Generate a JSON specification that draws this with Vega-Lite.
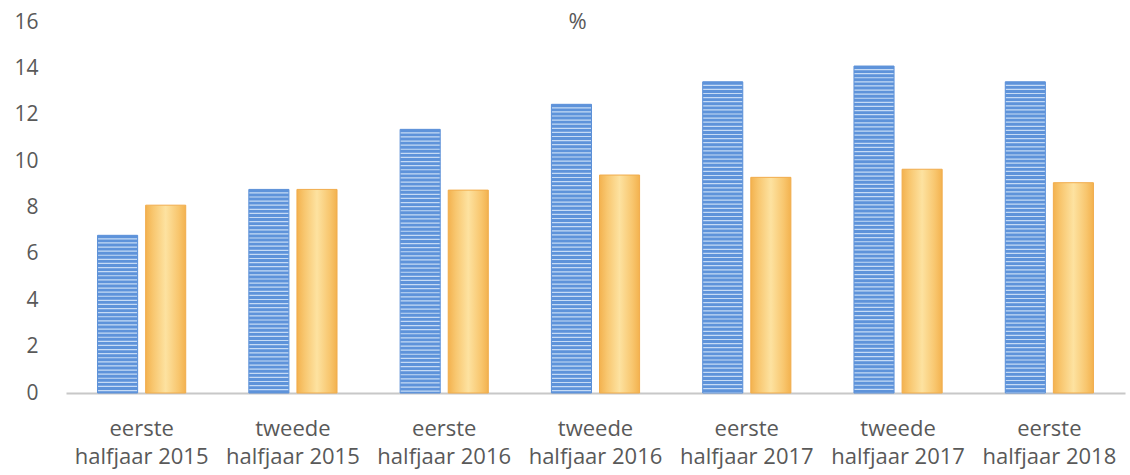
{
  "$schema": "https://vega.github.io/schema/vega-lite/v6.json",
  "width": 1059,
  "height": 371,
  "autosize": {"type": "none"},
  "padding": {"left": 66, "top": 22, "right": 5, "bottom": 82},
  "background": "white",
  "config": {"view": {"stroke": null}, "font": "Open Sans"},
  "title": {
    "text": "%",
    "font": "Open Sans",
    "fontSize": 22,
    "fontWeight": "normal",
    "color": "#595959",
    "dx": -18,
    "offset": -23
  },
  "data": {
    "values": [
      {"periode": "eerste halfjaar 2015", "reeks": "A", "waarde": 6.8},
      {"periode": "eerste halfjaar 2015", "reeks": "B", "waarde": 8.1},
      {"periode": "tweede halfjaar 2015", "reeks": "A", "waarde": 8.78},
      {"periode": "tweede halfjaar 2015", "reeks": "B", "waarde": 8.78},
      {"periode": "eerste halfjaar 2016", "reeks": "A", "waarde": 11.37},
      {"periode": "eerste halfjaar 2016", "reeks": "B", "waarde": 8.75},
      {"periode": "tweede halfjaar 2016", "reeks": "A", "waarde": 12.45},
      {"periode": "tweede halfjaar 2016", "reeks": "B", "waarde": 9.4},
      {"periode": "eerste halfjaar 2017", "reeks": "A", "waarde": 13.42},
      {"periode": "eerste halfjaar 2017", "reeks": "B", "waarde": 9.3},
      {"periode": "tweede halfjaar 2017", "reeks": "A", "waarde": 14.1},
      {"periode": "tweede halfjaar 2017", "reeks": "B", "waarde": 9.65},
      {"periode": "eerste halfjaar 2018", "reeks": "A", "waarde": 13.42},
      {"periode": "eerste halfjaar 2018", "reeks": "B", "waarde": 9.07}
    ]
  },
  "encoding": {
    "x": {
      "field": "periode",
      "type": "nominal",
      "sort": null,
      "scale": {"paddingInner": 0, "paddingOuter": 0},
      "axis": {
        "title": null,
        "labelAngle": 0,
        "ticks": false,
        "domainColor": "#c8c8c8",
        "domainWidth": 2,
        "labelColor": "#595959",
        "labelFont": "Open Sans",
        "labelFontSize": 22,
        "labelLineHeight": 28,
        "labelPadding": 25,
        "labelExpr": "[split(datum.label, ' ')[0], split(datum.label, ' ')[1] + ' ' + split(datum.label, ' ')[2]]"
      }
    },
    "xOffset": {
      "field": "reeks",
      "type": "nominal",
      "scale": {"paddingInner": 0.1667, "paddingOuter": 0.656}
    },
    "y": {
      "field": "waarde",
      "type": "quantitative",
      "scale": {"domain": [0, 16], "nice": false},
      "axis": {
        "title": null,
        "values": [0, 2, 4, 6, 8, 10, 12, 14, 16],
        "domain": false,
        "ticks": false,
        "grid": false,
        "labelColor": "#595959",
        "labelFont": "Open Sans",
        "labelFontSize": 21,
        "labelPadding": 28
      }
    }
  },
  "layer": [
    {
      "transform": [{"filter": "datum.reeks === 'A'"}],
      "mark": {"type": "bar", "fill": "#c6dbf5", "stroke": "#5a8ed6", "strokeWidth": 1}
    },
    {
      "transform": [{"filter": "datum.reeks === 'A'"}],
      "mark": {"type": "rule", "stroke": "#5e93da", "strokeWidth": 40, "strokeCap": "butt", "strokeDash": [2.9, 1.2]},
      "encoding": {"y2": {"datum": 0}}
    },
    {
      "transform": [{"filter": "datum.reeks === 'B'"}],
      "mark": {
        "type": "bar",
        "stroke": "#f1ac4c",
        "strokeWidth": 1,
        "fill": {
          "gradient": "linear",
          "x1": 0, "y1": 0, "x2": 1, "y2": 0,
          "stops": [
            {"offset": 0, "color": "#f3b24f"},
            {"offset": 0.18, "color": "#f8c66e"},
            {"offset": 0.5, "color": "#fde2a0"},
            {"offset": 0.82, "color": "#f8c66e"},
            {"offset": 1, "color": "#f3b24f"}
          ]
        }
      }
    }
  ]
}
